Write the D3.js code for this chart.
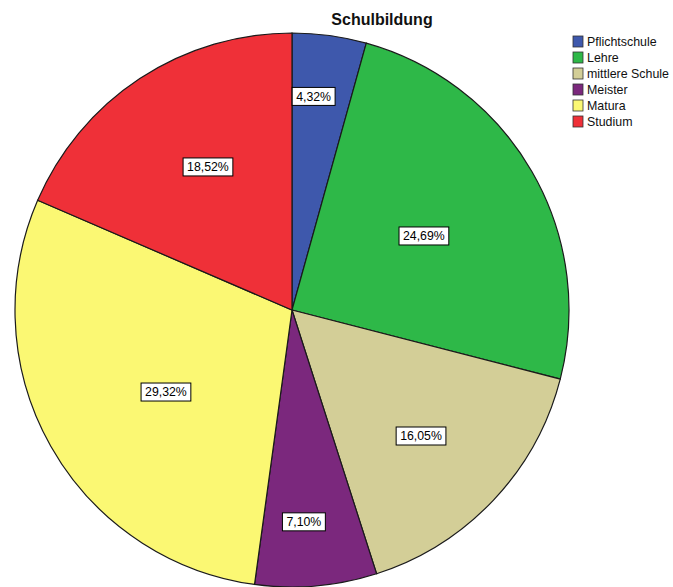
<!DOCTYPE html>
<html>
<head>
<meta charset="utf-8">
<script src="https://cdn.jsdelivr.net/npm/d3@7/dist/d3.min.js"></script>
<style>
  html, body { margin: 0; padding: 0; background: #fff; }
  svg { display: block; }
  text { font-family: "Liberation Sans", Arial, sans-serif; }
</style>
</head>
<body>
<svg id="chart" width="673" height="587"></svg>
<script>
// Schulbildung – Anteile in Prozent
const categories = ["Pflichtschule", "Lehre", "mittlere Schule", "Meister", "Matura", "Studium"];
const shares = [4.32, 24.69, 16.05, 7.10, 29.32, 18.52];
const colors = ["#3E58AC", "#2EB848", "#D3CE97", "#7B287D", "#FBF873", "#EF3038"];

const width = 673, height = 587;
const cx = 292, cy = 310, radius = 277;
// placement of the percentage boxes: radial fraction and angular nudge (degrees)
const labelRadiusFrac = [0.775, 0.546, 0.651, 0.766, 0.543, 0.599];
const labelAngleNudge = [-2.0, 0.7, 1.0, 1.8, -3.6, 2.9];

const svg = d3.select("#chart");

const data = categories.map((c, i) => ({ name: c, value: shares[i], color: colors[i], idx: i }));

const pie = d3.pie().value(d => d.value).sort(null);
const arcs = pie(data);
const arc = d3.arc().innerRadius(0).outerRadius(radius);

const g = svg.append("g").attr("transform", `translate(${cx},${cy})`);

g.selectAll("path.slice")
  .data(arcs)
  .join("path")
  .attr("class", "slice")
  .attr("d", arc)
  .attr("fill", d => d.data.color)
  .attr("stroke", "#1a1a1a")
  .attr("stroke-width", 1.2);

const fmt = v => v.toFixed(2).replace(".", ",") + "%";

const labels = g.selectAll("g.lbl")
  .data(arcs)
  .join("g")
  .attr("class", "lbl")
  .attr("transform", d => {
    const i = d.data.idx;
    const r = radius * labelRadiusFrac[i];
    const a = (d.startAngle + d.endAngle) / 2 + labelAngleNudge[i] * Math.PI / 180;
    return `translate(${r * Math.sin(a)},${-r * Math.cos(a)})`;
  });

labels.each(function(d) {
  const sel = d3.select(this);
  const t = sel.append("text")
    .attr("text-anchor", "middle")
    .attr("dy", "0.36em")
    .attr("font-size", 12.3)
    .attr("fill", "#000")
    .text(fmt(d.data.value));
  const bb = t.node().getBBox();
  sel.insert("rect", "text")
    .attr("x", bb.x - 4)
    .attr("y", -9)
    .attr("width", bb.width + 8)
    .attr("height", 18)
    .attr("fill", "#fff")
    .attr("stroke", "#000")
    .attr("stroke-width", 1);
});

// title
svg.append("text")
  .attr("x", 382)
  .attr("y", 25)
  .attr("text-anchor", "middle")
  .attr("font-size", 16)
  .attr("font-weight", "bold")
  .attr("fill", "#111")
  .text("Schulbildung");

// legend
const legend = svg.append("g").attr("transform", "translate(573,36)");
const item = legend.selectAll("g")
  .data(data)
  .join("g")
  .attr("transform", (d, i) => `translate(0,${i * 16})`);
item.append("rect")
  .attr("width", 10)
  .attr("height", 11)
  .attr("fill", d => d.color)
  .attr("stroke", "#333")
  .attr("stroke-width", 0.8);
item.append("text")
  .attr("x", 14)
  .attr("y", 10)
  .attr("font-size", 12.4)
  .attr("fill", "#111")
  .text(d => d.name);
</script>
</body>
</html>
